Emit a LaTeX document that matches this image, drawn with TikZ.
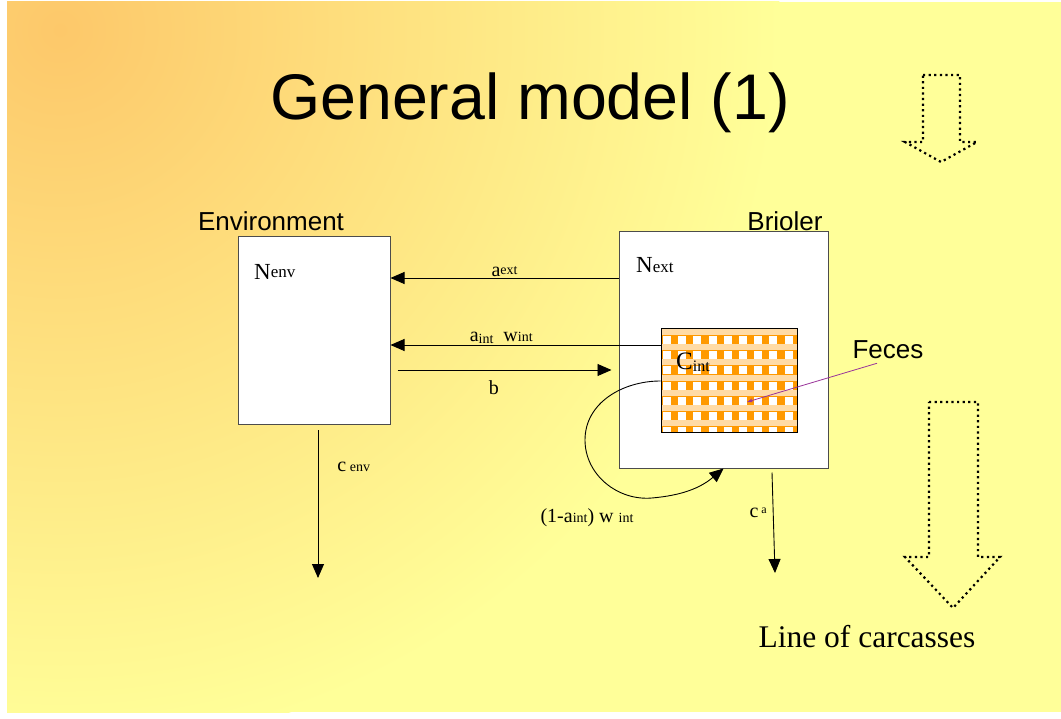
\documentclass[tikz,border=0pt]{standalone}
\usepackage{fontspec}
\setmainfont{Liberation Serif}
\newfontfamily\arialfont{Liberation Sans}
\usetikzlibrary{arrows.meta}
\definecolor{bgorange}{HTML}{FDC86A}
\definecolor{bgyellow}{HTML}{FFFF99}
\definecolor{fecesorange}{HTML}{FF9900}
\definecolor{fecesline}{HTML}{993399}

\begin{document}
\begin{tikzpicture}[x=1pt,y=-1pt,>={Triangle[length=14pt,width=12pt]},
  box/.style={draw=black!70,fill=white,line width=1pt,inner sep=0pt},
  flow/.style={->,line width=0.9pt},
  hollow arrow/.style={draw,line width=2.2pt,dash pattern=on 2.2pt off 3.4pt},
  title/.style={font=\arialfont\fontsize{64.5}{64.5}\selectfont,inner sep=0pt},
  head/.style={font=\arialfont\fontsize{26}{26}\selectfont,inner sep=0pt},
  sym/.style={font=\fontsize{20}{20}\selectfont,inner sep=1pt}]
  \useasboundingbox (0,0) rectangle (1061,719);
  % slide background
  \fill[white] (0,0) rectangle (1061,719);
  \begin{scope}
    \clip (7,2) rectangle (1061,712);
    \fill[bgyellow] (7,2) rectangle (1061,712);
    \shade[inner color=bgorange,outer color=bgyellow] (60,30) circle (720);
  \end{scope}

  \node[title] (ttl) at (530,103) {General model (1)};

  % dotted block arrows
  \draw[hollow arrow] (923,75) -- (960,75) -- (960,142) -- (977,142)
    -- (941,162) -- (905,142) -- (923,142) -- cycle;
  \draw[hollow arrow] (929,402) -- (978,402) -- (978,557) -- (1000,557)
    -- (953,608) -- (905,557) -- (929,557) -- cycle;
  \node[font=\fontsize{31.5}{31.5}\selectfont] (line) at (867,637) {Line of carcasses};

  % compartments
  \node[box,minimum width=152pt,minimum height=188pt] (env) at (314,331) {};
  \node[box,minimum width=209pt,minimum height=236pt] (brl) at (723.5,350) {};
  \node[head] (envt) at (271,221) {Environment};
  \node[head] (brlt) at (785,221) {Brioler};

  % feces pattern
  \begin{scope}
    \clip (661,329) rectangle (797,433);
    \fill[fecesorange] (661,329) rectangle (797,433);
    \foreach \i in {0,...,8}
      \foreach \j in {-1,...,6}
        \fill[white] (663+15.2*\i,351+15.3*\j) rectangle +(8,8);
    \foreach \j in {-1,...,6}
      \fill[fecesorange!35!white] (661,344+15.3*\j) rectangle +(136,6);
  \end{scope}
  \node[draw,line width=1pt,inner sep=0pt,minimum width=136pt,minimum height=104pt] (fec) at (729,381) {};

  \node[sym,anchor=west] (nenv) at (253,272) {{\fontsize{23}{23}\selectfont N}{\fontsize{17}{17}\selectfont\raisebox{2pt}{env}}};
  \node[sym,anchor=west] (next) at (635,265) {{\fontsize{23}{23}\selectfont N}{\fontsize{17}{17}\selectfont ext}};
  \node[sym,anchor=west] (cint) at (675,362) {{\fontsize{25}{25}\selectfont C}{\fontsize{16}{16}\selectfont\raisebox{-2pt}{int}}};
  \node[head] (fl) at (888,350) {Feces};

  % flows
  \draw[flow] ([yshift=72pt]brl.west) -- ([yshift=53pt]env.east)
    node[sym,midway,above] {a{\fontsize{14}{14}\selectfont\raisebox{2pt}{ext}}};
  \draw[flow] ([yshift=36pt]fec.west) -- ([yshift=-14pt]env.east)
    node[sym,pos=0.59,above] {a{\fontsize{14}{14}\selectfont\raisebox{-2pt}{int}}\ \ w{\fontsize{14}{14}\selectfont int}};
  \draw[flow] ([xshift=7pt,yshift=-39pt]env.east) -- ([xshift=-7pt,yshift=-20pt]brl.west)
    node[sym,pos=0.45,below=9pt] {b};
  \draw[line width=0.9pt,->] (fec.west) to[out=180,in=90] (585,440)
    to[out=-90,in=185] (652,498) to[out=5,in=-140] (brl.south);
  \node[sym] (recyc) at (587,518) {(1-a{\fontsize{14}{14}\selectfont int}) w {\fontsize{14}{14}\selectfont int}};

  \coordinate (cenv end) at (318,578);
  \coordinate (ca end) at (775,573);
  \draw[flow] ([xshift=4pt,yshift=-5pt]env.south) -- (cenv end)
    node[sym,pos=0.25,right=18pt] {c{\fontsize{14}{14}\selectfont\ env}};
  \draw[flow] ([xshift=48.5pt,yshift=-4pt]brl.south) -- (ca end)
    node[sym,pos=0.4,left=5pt] {c{\fontsize{12}{12}\selectfont\ \raisebox{4pt}{a}}};

  \coordinate (fecpt) at (747,402);
  \draw[fecesline,line width=0.8pt,-{Stealth[length=6pt,width=4pt]}] ([xshift=-11pt,yshift=-4pt]fl.south) -- (fecpt);
\end{tikzpicture}
\end{document}
